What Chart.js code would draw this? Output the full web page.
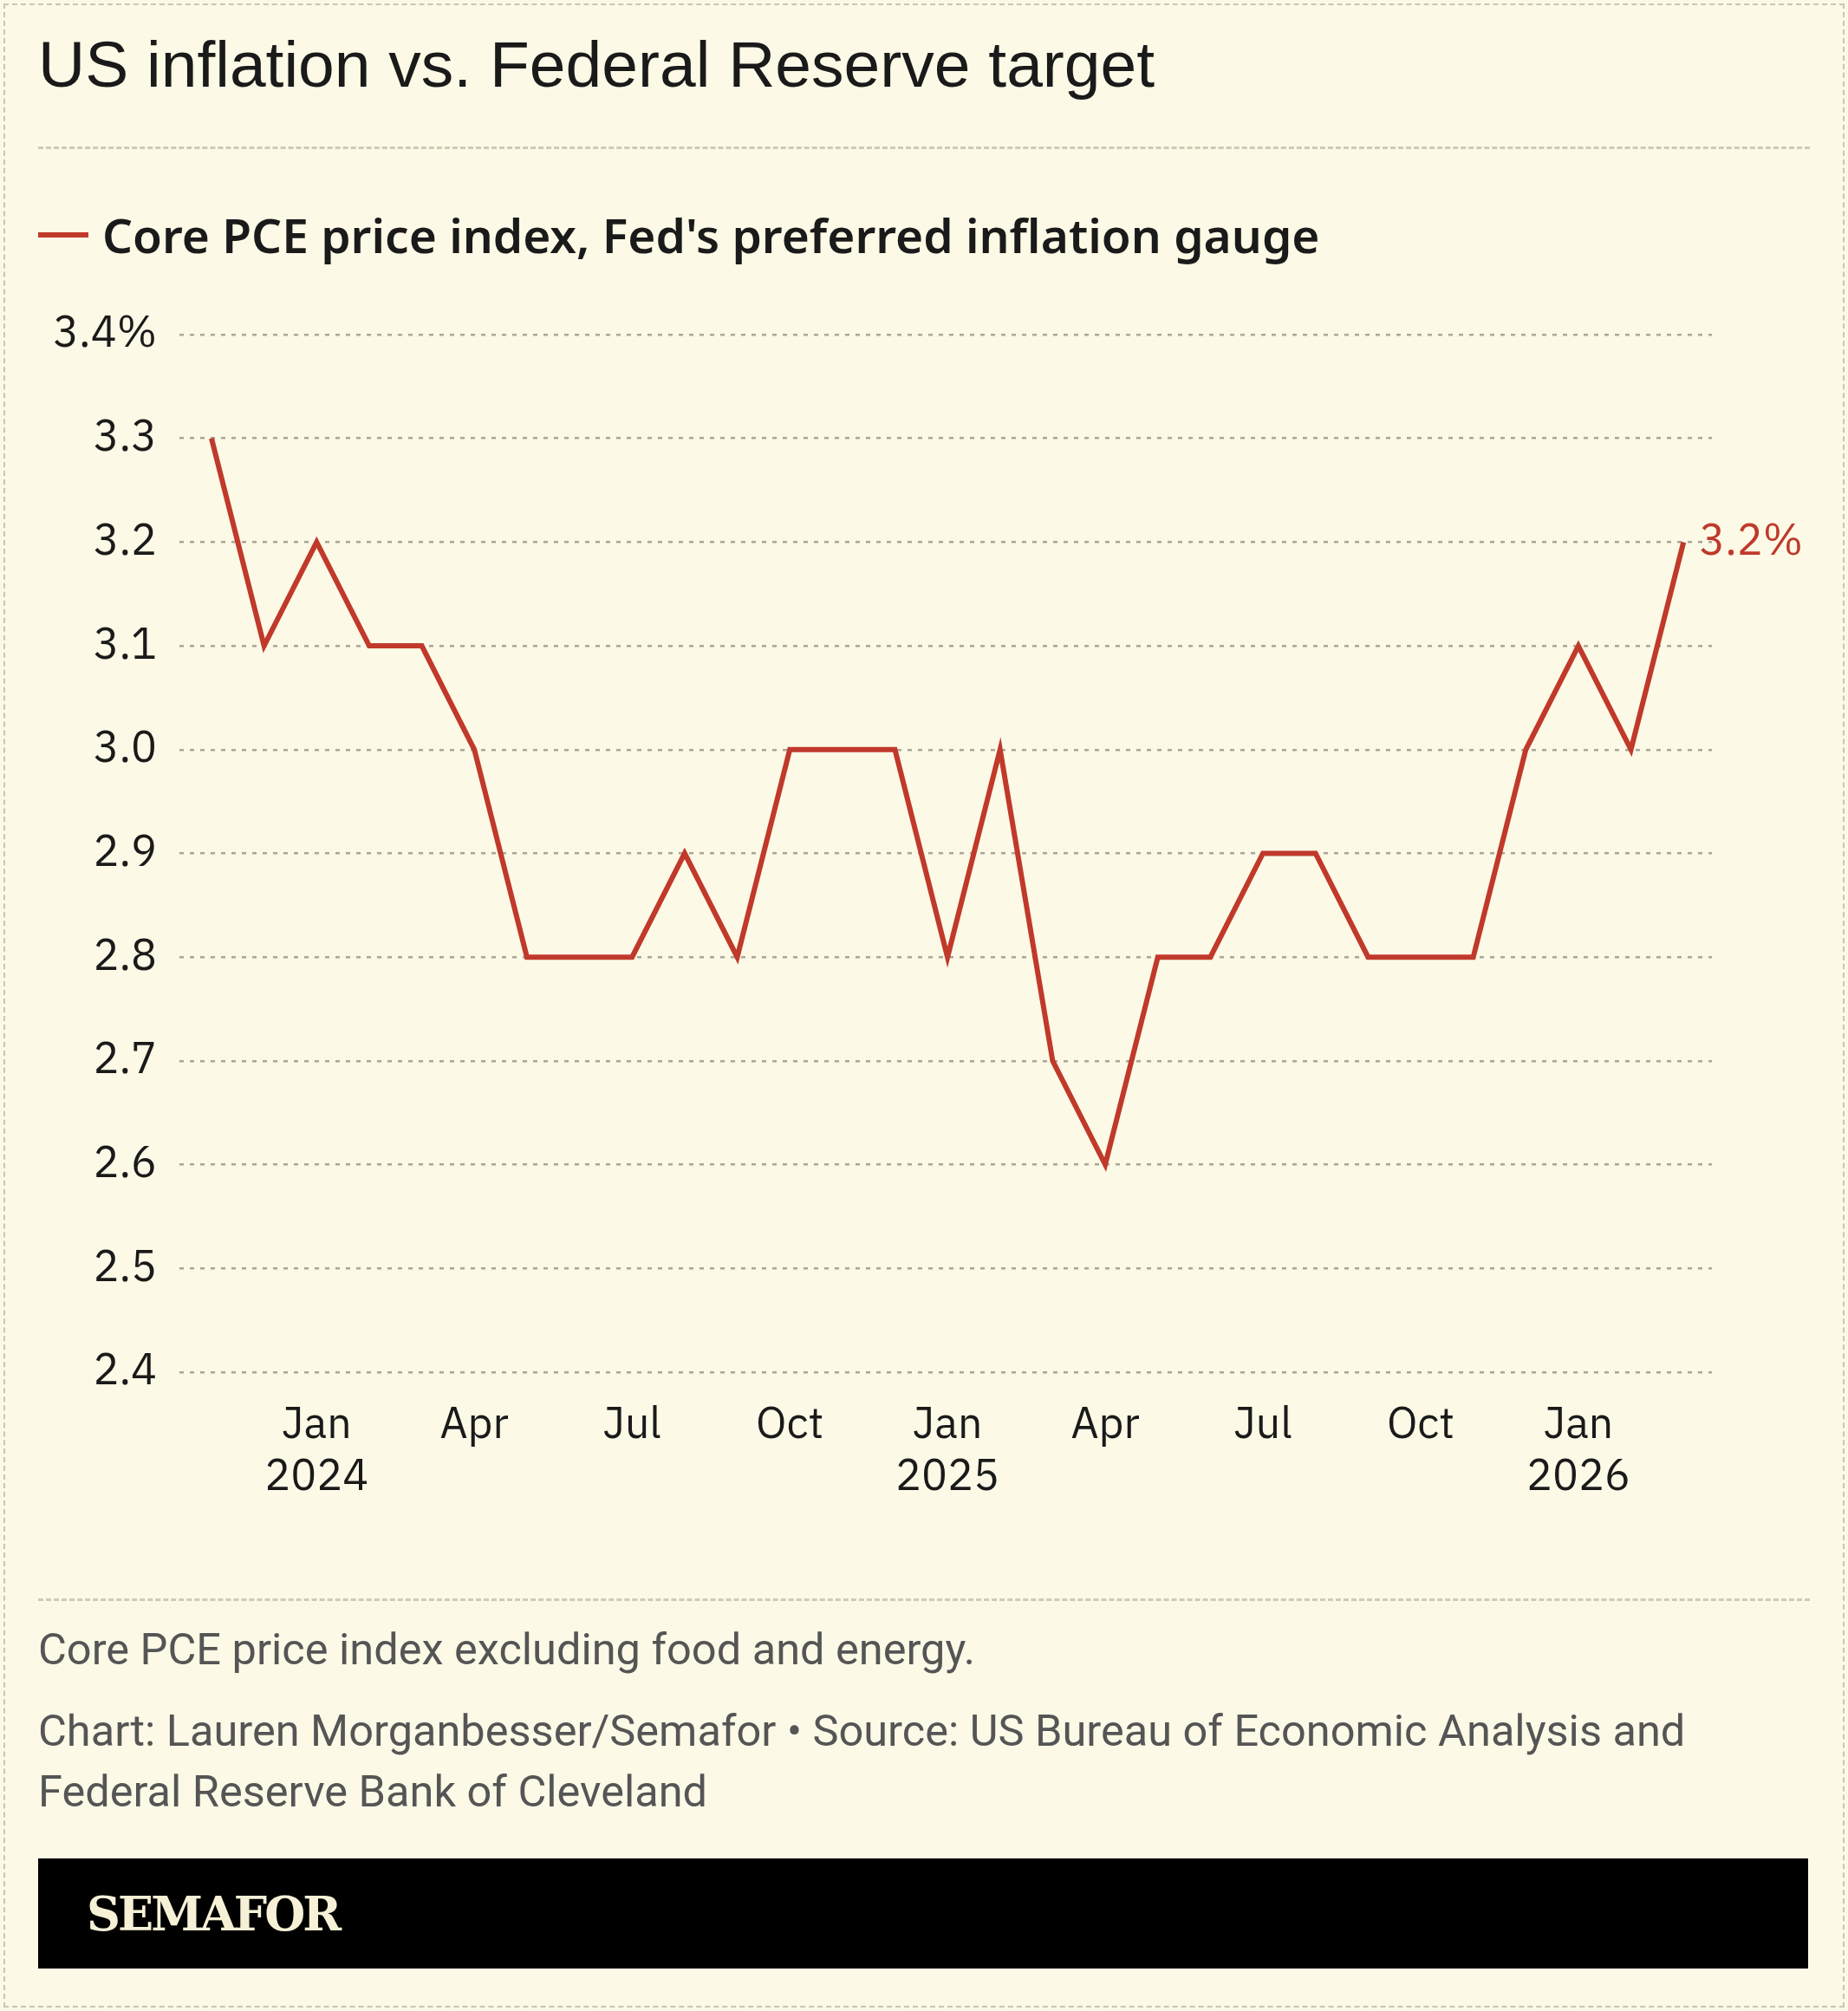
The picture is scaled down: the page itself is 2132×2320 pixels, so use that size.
<!DOCTYPE html>
<html><head><meta charset="utf-8">
<script src="https://cdn.jsdelivr.net/npm/chart.js@4"></script>
<style>
html,body{margin:0;padding:0;background:#fcf9e6;}
#wrap{position:relative;width:2132px;height:2320px;background:#fcf9e6;font-family:"IBM Plex Sans",Roboto,"Noto Sans",sans-serif;color:#1a1a1a;overflow:hidden}
#frame{position:absolute;left:4px;top:4px;right:4px;bottom:4px;border:2px dashed #c9c5b2;}
.sep{position:absolute;left:44px;right:44px;border-top:3px dashed #cfcab6;}
#title{position:absolute;left:44px;top:31px;font-family:"Liberation Sans",Arial,sans-serif;font-size:75px;color:#1a1a1a}
#legend{position:absolute;left:44px;top:233px;font-size:55px;font-weight:600;font-family:"Noto Sans",Roboto,sans-serif;display:flex;align-items:center}
#legend span.sw{display:inline-block;width:58px;height:6px;background:#c0392b;margin-right:16px}
.note{position:absolute;left:44px;font-size:50.5px;color:#555;font-family:Roboto,"Noto Sans",sans-serif;line-height:70px}
#bar{position:absolute;left:44px;top:2144px;width:2042px;height:127px;background:#000}
#logo{position:absolute;left:56px;top:32px;color:#f6f0d6;font-family:"DejaVu Serif","Liberation Serif",serif;font-weight:bold;font-size:54px;letter-spacing:-3px}
canvas{position:absolute;left:0;top:330px}
</style></head><body>
<div id="wrap">
<div id="frame"></div>
<div id="title">US inflation vs. Federal Reserve target</div>
<div class="sep" style="top:169px"></div>
<div id="legend"><span class="sw"></span>Core PCE price index, Fed's preferred inflation gauge</div>
<canvas id="c" width="2132" height="1420" style="width:2132px;height:1420px"></canvas>
<div class="sep" style="top:1844px"></div>
<div class="note" style="top:1868px">Core PCE price index excluding food and energy.</div>
<div class="note" style="top:1962px">Chart: Lauren Morganbesser/Semafor • Source: US Bureau of Economic Analysis and<br>Federal Reserve Bank of Cleveland</div>
<div id="bar"><div id="logo">SEMAFOR</div></div>
</div>
<script>
const months = ["Nov 2023","Dec 2023","Jan 2024","Feb 2024","Mar 2024","Apr 2024","May 2024","Jun 2024","Jul 2024","Aug 2024","Sep 2024","Oct 2024","Nov 2024","Dec 2024","Jan 2025","Feb 2025","Mar 2025","Apr 2025","May 2025","Jun 2025","Jul 2025","Aug 2025","Sep 2025","Oct 2025","Nov 2025","Dec 2025","Jan 2026","Feb 2026","Mar 2026"];
const corePCE = [3.3,3.1,3.2,3.1,3.1,3.0,2.8,2.8,2.8,2.9,2.8,3.0,3.0,3.0,2.8,3.0,2.7,2.6,2.8,2.8,2.9,2.9,2.8,2.8,2.8,3.0,3.1,3.0,3.2];
const xTickIdx = [2,5,8,11,14,17,20,23,26];
const xTickLabels = [["Jan","2024"],"Apr","Jul","Oct",["Jan","2025"],"Apr","Jul","Oct",["Jan","2026"]];
const yTicks = [2.4,2.5,2.6,2.7,2.8,2.9,3.0,3.1,3.2,3.3,3.4];
const RED = "#c0392b";
const font = {family:'"IBM Plex Sans",Roboto,"Noto Sans",sans-serif', size:50};
const endLabel = {id:'endLabel',afterDatasetsDraw(ch){
  const m = ch.getDatasetMeta(0); const p = m.data[m.data.length-1];
  const c = ch.ctx; c.save(); c.fillStyle=RED; c.font='50px '+font.family;
  c.textBaseline='middle'; c.fillText(corePCE[corePCE.length-1].toFixed(1)+'%', p.x+18, p.y); c.restore();
}};
new Chart(document.getElementById('c'),{
  type:'line',
  data:{datasets:[{data:corePCE.map((v,i)=>({x:i,y:v})),borderColor:RED,borderWidth:6,pointRadius:0,tension:0,borderJoinStyle:'miter'}]},
  options:{responsive:false,animation:false,
    layout:{padding:{left:0,right:157,top:53,bottom:0}},
    plugins:{legend:{display:false},tooltip:{enabled:false}},
    scales:{
      x:{type:'linear',min:-0.61,max:28.54,
        afterBuildTicks(a){a.ticks=xTickIdx.map(v=>({value:v}));},
        afterFit(a){a.height=167;},
        ticks:{autoSkip:false,maxRotation:0,color:'#1a1a1a',font,padding:24,
          callback(v){const k=xTickIdx.indexOf(v);return k<0?'':xTickLabels[k];}},
        grid:{display:false},border:{display:false}},
      y:{min:2.4,max:3.4,
        afterBuildTicks(a){a.ticks=yTicks.map(v=>({value:v}));},
        afterFit(a){a.width=207;},
        ticks:{color:'#1a1a1a',font,padding:26,callback(v){return v===3.4?'3.4%':v.toFixed(1);}},
        grid:{color:'#aaa69a',lineWidth:2.5,tickLength:0},
        border:{display:false,dash:[5,7]}}
    }},
  plugins:[endLabel]
});
</script>
</body></html>
